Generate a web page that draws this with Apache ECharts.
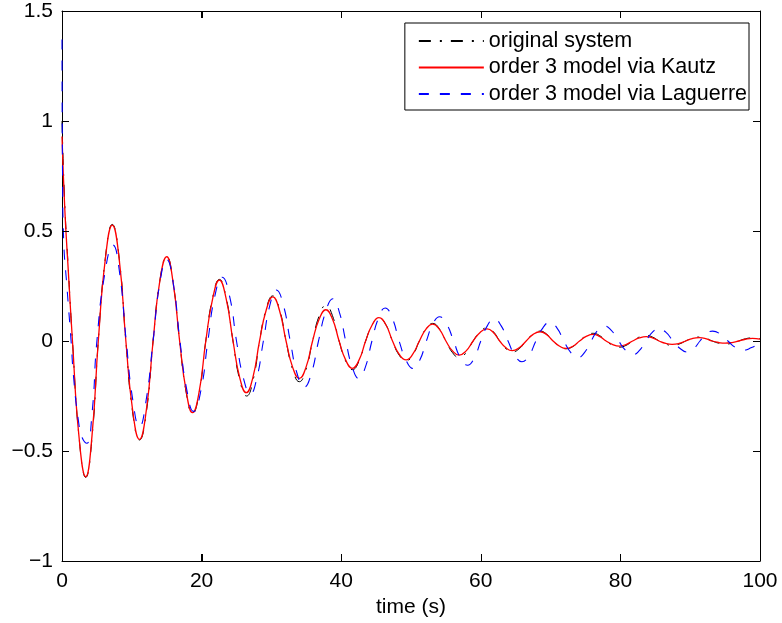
<!DOCTYPE html>
<html>
<head>
<meta charset="utf-8">
<script src="https://cdn.jsdelivr.net/npm/echarts@6/dist/echarts.min.js"></script>
<style>
html,body{margin:0;padding:0;background:#fff;}
#c{width:782px;height:623px;}
</style>
</head>
<body>
<div id="c"></div>
<script>
// [time (s), response]
const originalSystem = [[0,1.0],[0.4,0.62],[0.9,0.33],[1.5,0],[2.45,-0.44],[3.4,-0.62],[4.3,-0.44],[5.2,0],[6.2,0.375],[7.2,0.53],[8.2,0.375],[9.15,0],[10.1,-0.32],[11.1,-0.45],[12.1,-0.32],[13.05,0],[14.0,0.27],[15.0,0.385],[15.9,0.27],[16.85,0],[17.8,-0.235],[18.7,-0.33],[19.65,-0.235],[20.6,0],[21.6,0.2],[22.55,0.28],[23.5,0.2],[24.5,0],[25.45,-0.175],[26.45,-0.25],[27.4,-0.175],[28.3,0],[29.25,0.145],[30.2,0.205],[31.15,0.145],[32.1,0],[33.05,-0.13],[34.0,-0.185],[34.95,-0.13],[35.9,0],[36.85,0.115],[37.8,0.162],[38.75,0.115],[39.7,0],[40.65,-0.092],[41.6,-0.13],[42.55,-0.092],[43.5,0],[44.45,0.074],[45.4,0.105],[46.4,0.074],[47.35,0],[48.3,-0.064],[49.3,-0.09],[50.25,-0.064],[51.2,0],[52.15,0.056],[53.1,0.08],[54.05,0.056],[55.0,0],[55.95,-0.053],[56.9,-0.075],[57.9,-0.053],[58.9,0],[59.9,0.042],[60.9,0.06],[61.8,0.042],[62.7,0],[63.6,-0.035],[64.5,-0.05],[65.5,-0.035],[66.5,0],[67.5,0.032],[68.5,0.045],[69.4,0.032],[70.35,0],[71.3,-0.025],[72.2,-0.035],[73.2,-0.025],[74.15,0],[75.1,0.025],[76.1,0.035],[77.0,0.025],[77.95,0],[78.9,-0.02],[79.8,-0.028],[80.8,-0.02],[81.75,0],[82.7,0.018],[83.7,0.025],[84.6,0.018],[85.55,0],[86.5,-0.014],[87.4,-0.02],[88.4,-0.014],[89.35,0],[90.3,0.013],[91.3,0.018],[92.2,0.013],[93.15,0],[94.1,-0.01],[95.0,-0.014],[96.0,-0.01],[96.95,0],[97.9,0.01],[98.9,0.014],[100,0.01]];
const kautzModel = [[0,0.93],[0.4,0.6],[0.9,0.32],[1.5,0],[2.45,-0.44],[3.4,-0.617],[4.3,-0.43],[5.2,0],[6.2,0.37],[7.2,0.527],[8.2,0.37],[9.15,0],[10.1,-0.31],[11.1,-0.447],[12.1,-0.31],[13.05,0],[14.0,0.27],[15.0,0.383],[15.9,0.27],[16.85,0],[17.8,-0.23],[18.7,-0.326],[19.65,-0.23],[20.6,0],[21.6,0.195],[22.55,0.277],[23.5,0.195],[24.5,0],[25.45,-0.165],[26.4,-0.235],[27.35,-0.165],[28.3,0],[29.25,0.14],[30.2,0.201],[31.15,0.14],[32.1,0],[33.05,-0.12],[34.0,-0.17],[34.95,-0.12],[35.9,0],[36.85,0.1],[37.8,0.142],[38.75,0.1],[39.7,0],[40.65,-0.087],[41.6,-0.124],[42.55,-0.087],[43.5,0],[44.45,0.074],[45.4,0.106],[46.4,0.074],[47.35,0],[48.3,-0.06],[49.3,-0.086],[50.25,-0.06],[51.2,0],[52.15,0.054],[53.1,0.077],[54.05,0.054],[55.0,0],[55.95,-0.045],[56.9,-0.064],[57.9,-0.045],[58.9,0],[59.9,0.039],[60.9,0.055],[61.8,0.039],[62.7,0],[63.6,-0.031],[64.5,-0.044],[65.5,-0.031],[66.5,0],[67.5,0.03],[68.5,0.042],[69.4,0.03],[70.35,0],[71.3,-0.024],[72.2,-0.034],[73.2,-0.024],[74.15,0],[75.1,0.021],[76.1,0.03],[77.0,0.021],[77.95,0],[78.9,-0.016],[79.8,-0.023],[80.8,-0.016],[81.75,0],[82.7,0.014],[83.7,0.02],[84.6,0.014],[85.55,0],[86.5,-0.011],[87.4,-0.015],[88.4,-0.011],[89.35,0],[90.3,0.011],[91.3,0.015],[92.2,0.011],[93.15,0],[94.1,-0.007],[95.0,-0.01],[96.0,-0.007],[96.95,0],[97.9,0.008],[98.9,0.012],[100,0.008]];
const laguerreModel = [[0,1.37],[0.08,0.75],[0.25,0.45],[0.7,0.25],[1.3,0],[1.65,-0.16],[2.3,-0.35],[2.9,-0.44],[3.55,-0.465],[4.3,-0.33],[5.0,0],[6.15,0.31],[7.3,0.436],[8.25,0.31],[9.2,0],[10.15,-0.27],[11.1,-0.39],[12.05,-0.27],[13.05,0],[14.0,0.26],[15.0,0.37],[15.95,0.26],[16.9,0],[17.9,-0.225],[18.85,-0.32],[19.9,-0.225],[20.9,0],[21.9,0.205],[22.95,0.29],[24.0,0.205],[25.0,0],[26.0,-0.17],[27.0,-0.24],[27.9,-0.17],[28.85,0],[29.8,0.165],[30.7,0.232],[31.7,0.165],[32.7,0],[33.7,-0.15],[34.7,-0.21],[35.7,-0.15],[36.75,0],[37.8,0.135],[38.8,0.192],[39.7,0.135],[40.65,0],[41.6,-0.12],[42.5,-0.17],[43.45,-0.12],[44.4,0],[45.35,0.105],[46.3,0.15],[47.3,0.105],[48.3,0],[49.3,-0.088],[50.3,-0.125],[51.25,-0.088],[52.2,0],[53.15,0.078],[54.1,0.11],[55.1,0.078],[56.1,0],[57.1,-0.078],[58.1,-0.11],[59.05,-0.078],[60.0,0],[60.95,0.07],[61.9,0.1],[62.9,0.07],[63.9,0],[64.9,-0.066],[65.9,-0.094],[66.9,-0.066],[67.9,0],[68.9,0.06],[69.9,0.085],[70.9,0.06],[71.9,0],[72.9,-0.053],[73.9,-0.075],[74.85,-0.053],[75.8,0],[76.75,0.048],[77.7,0.068],[78.7,0.048],[79.75,0],[80.8,-0.044],[81.8,-0.062],[82.7,-0.044],[83.65,0],[84.6,0.04],[85.5,0.056],[86.5,0.04],[87.55,0],[88.6,-0.035],[89.6,-0.05],[90.5,-0.035],[91.4,0],[92.3,0.032],[93.2,0.045],[94.3,0.032],[95.4,0],[96.5,-0.03],[97.6,-0.042],[98.8,-0.03],[100,-0.012]];

const seriesNames = ['original system', 'order 3 model via Kautz', 'order 3 model via Laguerre'];
const xTicks = [0, 20, 40, 60, 80, 100];
const yTicks = [-1, -0.5, 0, 0.5, 1, 1.5];

const FONT = 'Liberation Sans, Arial, Helvetica, sans-serif';
const chart = echarts.init(document.getElementById('c'), null, {renderer: 'canvas'});
const fmtY = v => String(v).replace('-', '\u2212');
function tick() {
  return {show: true, inside: true, length: 7, lineStyle: {color: '#000', width: 1, type: 'solid', opacity: 1}};
}
function line() {
  return {show: true, onZero: false, lineStyle: {color: '#000', width: 1}};
}
chart.setOption({
  animation: false,
  backgroundColor: '#fff',
  grid: {left: 62, right: 22, top: 11, bottom: 62, show: false},
  legend: {
    orient: 'vertical',
    right: 33, top: 23,
    data: seriesNames,
    itemWidth: 65, itemHeight: 14, itemGap: 4.5,
    padding: [7, 2, 5, 13],
    borderColor: '#000', borderWidth: 1, backgroundColor: '#fff', borderRadius: 0,
    textStyle: {fontFamily: FONT, fontSize: 21.5, color: '#000'},
    itemStyle: {opacity: 0}
  },
  xAxis: [
    {
      type: 'value', min: xTicks[0], max: xTicks[xTicks.length-1], interval: 20,
      position: 'bottom', axisLine: line(), axisTick: tick(), splitLine: {show: false},
      name: 'time (s)', nameLocation: 'middle', nameGap: 35,
      nameTextStyle: {fontFamily: FONT, fontSize: 21, color: '#000'},
      axisLabel: {fontFamily: FONT, fontSize: 21, color: '#000', margin: 10}
    },
    {
      type: 'value', min: xTicks[0], max: xTicks[xTicks.length-1], interval: 20,
      position: 'top', axisLine: line(), axisTick: tick(), splitLine: {show: false},
      axisLabel: {show: false}
    }
  ],
  yAxis: [
    {
      type: 'value', min: yTicks[0], max: yTicks[yTicks.length-1], interval: 0.5,
      position: 'left', axisLine: line(), axisTick: tick(), splitLine: {show: false},
      axisLabel: {fontFamily: FONT, fontSize: 21, color: '#000', margin: 9, formatter: fmtY}
    },
    {
      type: 'value', min: yTicks[0], max: yTicks[yTicks.length-1], interval: 0.5,
      position: 'right', axisLine: line(), axisTick: tick(), splitLine: {show: false},
      axisLabel: {show: false}
    }
  ],
  series: [
    {
      name: seriesNames[0], type: 'line', data: originalSystem,
      showSymbol: false, symbol: 'none', smooth: 0.5,
      lineStyle: {color: '#000', width: 1, type: [12, 9, 2, 9]},
      itemStyle: {color: '#000'}, z: 3
    },
    {
      name: seriesNames[1], type: 'line', data: kautzModel,
      showSymbol: false, symbol: 'none', smooth: 0.5,
      lineStyle: {color: '#ff0000', width: 1.3, type: 'solid'},
      itemStyle: {color: '#ff0000'}, z: 4
    },
    {
      name: seriesNames[2], type: 'line', data: laguerreModel,
      showSymbol: false, symbol: 'none', smooth: 0.5,
      lineStyle: {color: '#0000ff', width: 1.1, type: [10, 11]},
      itemStyle: {color: '#0000ff'}, z: 5
    }
  ]
});

// tick marks on all four sides of the box, positioned through the axes' own scales
(function addTicks() {
  const L = 7;
  const xb = chart.convertToPixel({xAxisIndex: 0}, xTicks[0]);
  const xe = chart.convertToPixel({xAxisIndex: 0}, xTicks[xTicks.length-1]);
  const yb = chart.convertToPixel({yAxisIndex: 0}, yTicks[0]);
  const ye = chart.convertToPixel({yAxisIndex: 0}, yTicks[yTicks.length-1]);
  const els = [];
  const st = {stroke: '#000', lineWidth: 1};
  xTicks.slice(1, -1).forEach(v => {
    const p = Math.round(chart.convertToPixel({xAxisIndex: 0}, v)) + 0.5;
    els.push({type: 'line', silent: true, z: 10, shape: {x1: p, y1: yb, x2: p, y2: yb - L}, style: st});
    els.push({type: 'line', silent: true, z: 10, shape: {x1: p, y1: ye, x2: p, y2: ye + L}, style: st});
  });
  yTicks.slice(1, -1).forEach(v => {
    const p = Math.round(chart.convertToPixel({yAxisIndex: 0}, v)) + 0.5;
    els.push({type: 'line', silent: true, z: 10, shape: {x1: xb, y1: p, x2: xb + L, y2: p}, style: st});
    els.push({type: 'line', silent: true, z: 10, shape: {x1: xe, y1: p, x2: xe - L, y2: p}, style: st});
  });
  chart.setOption({graphic: els});
})();
</script>
</body>
</html>
